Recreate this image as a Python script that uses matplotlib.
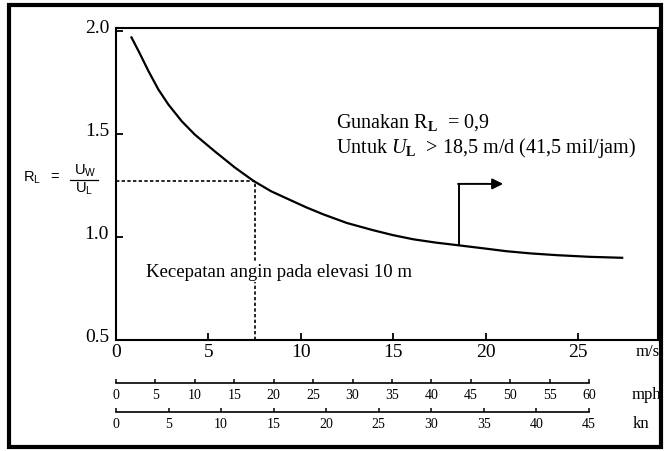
import matplotlib.pyplot as plt
import matplotlib.transforms as mtransforms
from matplotlib.patches import Rectangle
from matplotlib.lines import Line2D

plt.rcParams['font.family'] = ['Liberation Serif', 'DejaVu Serif']
plt.rcParams['mathtext.fontset'] = 'custom'
plt.rcParams['mathtext.rm'] = 'Liberation Serif'
plt.rcParams['mathtext.it'] = 'Liberation Serif:italic'
plt.rcParams['mathtext.bf'] = 'Liberation Serif:bold'
plt.rcParams['mathtext.sf'] = 'Liberation Sans'

# curve: wind speed (m/s) vs R_L
wind_ms = [0.81, 1.30, 1.75, 2.29, 2.83, 3.56, 4.27, 5.36, 6.44, 7.45,
           8.4, 9.42, 10.3, 11.22, 12.5, 13.92, 15.0, 16.09, 17.3, 18.52,
           19.8, 21.14, 22.5, 23.85, 25.6, 27.45]
ratio_rl = [1.974, 1.889, 1.807, 1.717, 1.644, 1.562, 1.497, 1.415, 1.337,
            1.272, 1.222, 1.180, 1.144, 1.110, 1.068, 1.033, 1.009, 0.989,
            0.973, 0.960, 0.946, 0.931, 0.920, 0.912, 0.904, 0.899]

ms_ticks = [0, 5, 10, 15, 20, 25]
rl_ticks = [0.5, 1.0, 1.5, 2.0]
mph_ticks = list(range(0, 61, 5))
kn_ticks = list(range(0, 46, 5))

# reference reading at 10 m elevation
ref_speed = 7.5
ref_ratio = 1.27

# arrow marking the region U_L > 18.5
arrow_x = 18.55
arrow_base = 0.962
arrow_top = 1.258
arrow_tip = 20.95

W, H = 665, 451


def fx(x):
    return x / W


def fy(y):
    return 1 - y / H


fig = plt.figure(figsize=(6.65, 4.51), dpi=100)

# outer frame of the scanned figure
fig.patches.append(Rectangle((fx(9), fy(447)), fx(661) - fx(9), fy(5) - fy(447),
                             transform=fig.transFigure, fill=False, lw=3,
                             edgecolor='black'))

ax = fig.add_axes([fx(116), fy(340), fx(658) - fx(116), fy(28) - fy(340)])
ax.set_xlim(0, 29.33)
ax.set_ylim(0.5, 2.015)

ax.plot(wind_ms, ratio_rl, color='black', lw=1.6, solid_capstyle='butt',
        solid_joinstyle='round')

# dashed reading lines
ax.plot([0, ref_speed], [ref_ratio, ref_ratio], color='black', lw=1.2,
        linestyle=(0, (2, 1.4)))
ax.plot([ref_speed, ref_speed], [0.5, ref_ratio], color='black', lw=1.2,
        linestyle=(0, (2, 1.4)))

# bent arrow
ax.plot([arrow_x, arrow_x], [arrow_base, arrow_top], color='black', lw=1.4)
ax.annotate('', xy=(arrow_tip, arrow_top), xytext=(arrow_x - 0.04, arrow_top),
            arrowprops=dict(arrowstyle='-|>', lw=1.4, color='black',
                            mutation_scale=16, shrinkA=0, shrinkB=0))

ax.text(11.9, 1.555, r'Gunakan R$_{\mathbf{L}}$  = 0,9', fontsize=14.5,
        va='center', ha='left')
ax.text(11.9, 1.43, r'Untuk $U_{\mathbf{L}}$  > 18,5 m/d (41,5 mil/jam)',
        fontsize=14.5, va='center', ha='left')
ax.text(1.6, 0.83, 'Kecepatan angin pada elevasi 10 m', fontsize=13.5,
        va='center', ha='left',
        bbox=dict(facecolor='white', edgecolor='none', pad=1))

for s in ax.spines.values():
    s.set_linewidth(1.5)

ax.set_xticks(ms_ticks)
ax.set_xticklabels([str(t) for t in ms_ticks])
ax.set_yticks(rl_ticks)
ax.set_yticklabels(['%.1f' % t for t in rl_ticks])
ax.tick_params(axis='both', direction='in', length=5, width=1.3, labelsize=14)
ax.tick_params(axis='x', pad=3)
ax.tick_params(axis='y', pad=5)
shift = mtransforms.ScaledTranslation(0, 3 / 72, fig.dpi_scale_trans)
for lab in ax.get_yticklabels():
    lab.set_transform(lab.get_transform() + shift)

fig.text(fx(636), fy(352), 'm/s', fontsize=12, va='center', ha='left')


def speed_scale(y_px, top, ticks, unit, unit_x):
    sa = fig.add_axes([fx(116), fy(y_px), fx(589) - fx(116), 0.0001])
    sa.set_xlim(0, top)
    sa.set_yticks([])
    for side in ['left', 'right', 'top']:
        sa.spines[side].set_visible(False)
    sa.spines['bottom'].set_linewidth(1.2)
    sa.set_xticks(ticks)
    sa.set_xticklabels([str(t) for t in ticks])
    sa.set_xticks([0, top], minor=True)
    sa.tick_params(axis='x', which='major', direction='in', length=3,
                   width=1.1, labelsize=10, pad=4)
    sa.tick_params(axis='x', which='minor', direction='inout', length=9,
                   width=1.2)
    sa.patch.set_visible(False)
    fig.text(fx(unit_x), fy(y_px + 12), unit, fontsize=12, va='center',
             ha='left')


speed_scale(383, 60, mph_ticks, 'mph', 632)
speed_scale(412, 45, kn_ticks, 'kn', 633)

# left-hand label R_L = U_W / U_L in a sans face
sans = ['Liberation Sans', 'DejaVu Sans']
fig.text(fx(23), fy(178), r'R$_{\mathsf{L}}$', family=sans, fontsize=10.5,
         va='center', ha='left')
fig.text(fx(50), fy(177), '=', family=sans, fontsize=10.5, va='center',
         ha='left')
fig.text(fx(85), fy(171), r'U$_{\mathsf{W}}$', family=sans, fontsize=10.5,
         va='center', ha='center')
fig.text(fx(84), fy(189), r'U$_{\mathsf{L}}$', family=sans, fontsize=10.5,
         va='center', ha='center')
fig.lines.append(Line2D([fx(70), fx(98)], [fy(180), fy(180)],
                        transform=fig.transFigure, color='black', lw=0.9))

fig.savefig('out.png', dpi=100)
